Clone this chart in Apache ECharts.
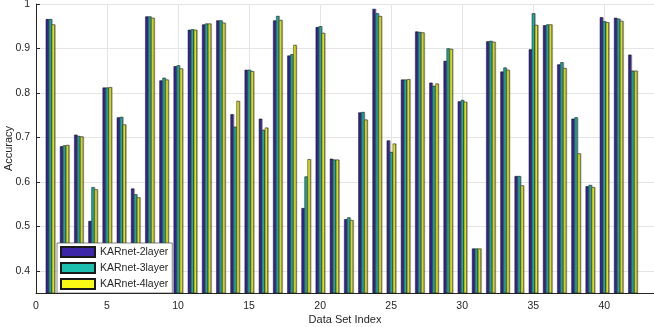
<!DOCTYPE html>
<html>
<head>
<meta charset="utf-8">
<script src="https://cdn.jsdelivr.net/npm/echarts@6/dist/echarts.min.js"></script>
<style>
  html, body { margin: 0; padding: 0; background: #fff; }
  #chart { width: 654px; height: 327px; }
</style>
</head>
<body>
<div id="chart"></div>
<script>
const dataSetIndex = [1, 2, 3, 4, 5, 6, 7, 8, 9, 10, 11, 12, 13, 14, 15, 16, 17, 18, 19, 20, 21,
  22, 23, 24, 25, 26, 27, 28, 29, 30, 31, 32, 33, 34, 35, 36, 37, 38, 39, 40, 41, 42]
const karnet2 = [0.966, 0.680, 0.706, 0.512, 0.812, 0.745, 0.585, 0.972, 0.828, 0.860,
  0.942, 0.954, 0.963, 0.752, 0.852, 0.742, 0.963, 0.884, 0.541, 0.948,
  0.652, 0.516, 0.756, 0.989, 0.693, 0.830, 0.938, 0.823, 0.872, 0.781,
  0.450, 0.916, 0.848, 0.613, 0.898, 0.952, 0.864, 0.742, 0.590, 0.970,
  0.969, 0.886]
const karnet3 = [0.966, 0.682, 0.703, 0.588, 0.812, 0.746, 0.572, 0.972, 0.834, 0.862,
  0.943, 0.956, 0.963, 0.724, 0.852, 0.717, 0.973, 0.887, 0.612, 0.950,
  0.650, 0.520, 0.757, 0.979, 0.667, 0.830, 0.937, 0.816, 0.900, 0.784,
  0.450, 0.917, 0.857, 0.613, 0.979, 0.954, 0.869, 0.745, 0.593, 0.961,
  0.967, 0.850]
const karnet4 = [0.954, 0.683, 0.702, 0.583, 0.813, 0.729, 0.565, 0.969, 0.830, 0.855,
  0.942, 0.956, 0.958, 0.782, 0.849, 0.722, 0.964, 0.908, 0.651, 0.935,
  0.650, 0.514, 0.740, 0.973, 0.686, 0.831, 0.936, 0.821, 0.899, 0.780,
  0.450, 0.915, 0.852, 0.592, 0.953, 0.954, 0.856, 0.664, 0.588, 0.959,
  0.962, 0.850]
const xTicks = [0, 5, 10, 15, 20, 25, 30, 35, 40]
const yTicks = [0.4, 0.5, 0.6, 0.7, 0.8, 0.9, 1.0]

const font = 'Liberation Sans, Arial, sans-serif'
const chart = echarts.init(document.getElementById('chart'))

function barSeries(name, values, color) {
  return {
    name: name,
    type: 'bar',
    barWidth: 3,
    barGap: '0%',
    data: dataSetIndex.map((x, i) => [x, values[i]]),
    itemStyle: {
      color: color,
      borderColor: '#1a1a1a',
      borderWidth: 0.5,
      shadowColor: 'rgba(0,0,0,0.35)',
      shadowOffsetX: 1,
    },
    emphasis: { disabled: true },
  }
}

chart.setOption({
  animation: false,
  textStyle: { fontFamily: font },
  grid: { left: 36, right: 0, top: 4, bottom: 34, containLabel: false, outerBoundsMode: 'none' },
  legend: {
    orient: 'vertical',
    left: 57,
    top: 243,
    icon: 'rect',
    itemWidth: 34,
    itemHeight: 10,
    itemGap: 4,
    padding: [3, 4, 3, 3],
    backgroundColor: '#fff',
    borderColor: '#333',
    borderWidth: 0.6,
    textStyle: { fontSize: 10.5, color: '#262626', fontFamily: font },
    data: ['KARnet-2layer', 'KARnet-3layer', 'KARnet-4layer'],
  },
  xAxis: {
    type: 'value',
    min: 0,
    max: 43.5,
    name: 'Data Set Index',
    nameLocation: 'middle',
    nameGap: 21,
    nameMoveOverlap: false,
    nameTextStyle: { fontSize: 11, color: '#262626' },
    axisLine: { lineStyle: { color: '#262626' } },
    axisTick: { customValues: xTicks, inside: true, length: 4, lineStyle: { color: '#262626' } },
    axisLabel: { customValues: xTicks, fontSize: 10.5, color: '#262626', margin: 8 },
    splitLine: { show: true, customValues: xTicks, lineStyle: { color: '#e5e5e5' } },
  },
  yAxis: {
    type: 'value',
    min: 0.35,
    max: 1.0,
    name: 'Accuracy',
    nameLocation: 'middle',
    nameGap: 22,
    nameMoveOverlap: false,
    nameTextStyle: { fontSize: 11, color: '#262626' },
    axisLine: { show: true, lineStyle: { color: '#262626' } },
    axisTick: { show: true, customValues: yTicks, inside: true, length: 4, lineStyle: { color: '#262626' } },
    axisLabel: {
      customValues: yTicks,
      fontSize: 10.5,
      color: '#262626',
      margin: 6,
      formatter: (v) => (Math.abs(v - 1) < 1e-9 ? '1' : v.toFixed(1)),
    },
    splitLine: { show: true, customValues: yTicks, lineStyle: { color: '#e5e5e5' } },
  },
  series: [
    barSeries('KARnet-2layer', karnet2, '#3e26a8'),
    barSeries('KARnet-3layer', karnet3, '#1cbfae'),
    barSeries('KARnet-4layer', karnet4, '#f9fb14'),
  ],
})
</script>
</body>
</html>
